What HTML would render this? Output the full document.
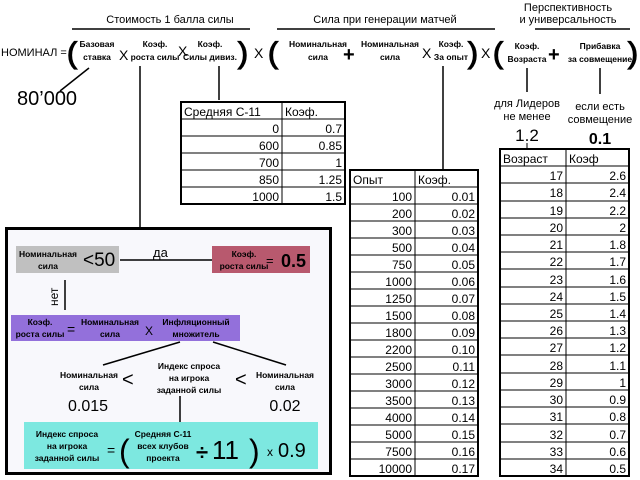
<!DOCTYPE html>
<html><head><meta charset="utf-8"><style>
html,body{margin:0;padding:0;background:#fff;}
svg{display:block;}
text{font-family:"Liberation Sans",sans-serif;fill:#000;}
.s{font-size:8.5px;font-weight:bold;}
.m{font-size:11px;}
.t{font-size:12px;}
.p{font-size:30px;font-weight:normal;stroke:#000;stroke-width:1.2px;}
</style></head><body>
<svg width="640" height="480" viewBox="0 0 640 480" xmlns="http://www.w3.org/2000/svg">
<!-- headers -->
<text x="170" y="23" class="m" text-anchor="middle">Стоимость 1 балла силы</text>
<line x1="72" y1="29" x2="250" y2="29" stroke="#000" stroke-width="1.5"/>
<text x="385" y="23" class="m" text-anchor="middle">Сила при генерации матчей</text>
<line x1="277" y1="29" x2="495" y2="29" stroke="#000" stroke-width="1.5"/>
<text x="568" y="11" class="m" text-anchor="middle">Перспективность</text>
<text x="568" y="23" class="m" text-anchor="middle">и универсальность</text>
<line x1="535" y1="29" x2="630" y2="29" stroke="#000" stroke-width="1.5"/>

<!-- formula -->
<text x="1" y="56" style="font-size:11px">НОМИНАЛ =</text>
<text x="67" y="63" class="p">(</text>
<text x="97" y="47" class="s" text-anchor="middle">Базовая</text>
<text x="97" y="60" class="s" text-anchor="middle">ставка</text>
<text x="119" y="60" style="font-size:14px">X</text>
<text x="155" y="47" class="s" text-anchor="middle">Коэф.</text>
<text x="155" y="60" class="s" text-anchor="middle">роста силы</text>
<text x="178" y="56" style="font-size:14px">X</text>
<text x="210" y="47" class="s" text-anchor="middle">Коэф.</text>
<text x="210" y="60" class="s" text-anchor="middle">Силы дивиз.</text>
<text x="238" y="63" class="p">)</text>
<text x="254" y="58" style="font-size:14px">X</text>
<text x="268" y="63" class="p">(</text>
<text x="318" y="47" class="s" text-anchor="middle">Номинальная</text>
<text x="318" y="60" class="s" text-anchor="middle">сила</text>
<text x="343" y="61" style="font-size:20px;font-weight:bold">+</text>
<text x="390" y="47" class="s" text-anchor="middle">Номинальная</text>
<text x="390" y="60" class="s" text-anchor="middle">сила</text>
<text x="422" y="58" style="font-size:14px">X</text>
<text x="451" y="47" class="s" text-anchor="middle">Коэф.</text>
<text x="451" y="60" class="s" text-anchor="middle">За опыт</text>
<text x="468" y="63" class="p">)</text>
<text x="481" y="58" style="font-size:14px">X</text>
<text x="493" y="63" class="p">(</text>
<text x="527" y="49" class="s" text-anchor="middle">Коэф.</text>
<text x="527" y="62" class="s" text-anchor="middle">Возраста</text>
<text x="548" y="61" style="font-size:20px;font-weight:bold">+</text>
<text x="600" y="49" class="s" text-anchor="middle">Прибавка</text>
<text x="600" y="62" class="s" text-anchor="middle">за совмещение</text>
<text x="628" y="63" class="p">)</text>

<!-- connectors -->
<line x1="89" y1="68" x2="60" y2="91" stroke="#000" stroke-width="1.5"/>
<text x="17" y="105" style="font-size:20px">80’000</text>
<line x1="140" y1="66" x2="140" y2="227" stroke="#000" stroke-width="1.5"/>
<line x1="219" y1="66" x2="219" y2="100" stroke="#000" stroke-width="1.5"/>
<line x1="443" y1="66" x2="443" y2="170" stroke="#000" stroke-width="1.5"/>
<line x1="527" y1="68" x2="527" y2="92" stroke="#000" stroke-width="1.5"/>
<line x1="600" y1="68" x2="600" y2="94" stroke="#000" stroke-width="1.5"/>
<text x="527" y="107" class="m" text-anchor="middle">для Лидеров</text>
<text x="527" y="120" class="m" text-anchor="middle">не менее</text>
<text x="527" y="141" style="font-size:17px" text-anchor="middle">1.2</text>
<line x1="527" y1="143" x2="527" y2="149" stroke="#000"/>
<text x="600" y="110" class="m" text-anchor="middle">если есть</text>
<text x="600" y="123" class="m" text-anchor="middle">совмещение</text>
<text x="600" y="144" style="font-size:16px;font-weight:bold" text-anchor="middle">0.1</text>

<!-- Table 1 -->
<g stroke="#000" stroke-width="1">
<line x1="181" y1="119" x2="345" y2="119"/><line x1="181" y1="136" x2="345" y2="136"/>
<line x1="181" y1="153" x2="345" y2="153"/><line x1="181" y1="170" x2="345" y2="170"/>
<line x1="181" y1="187" x2="345" y2="187"/><line x1="282" y1="102" x2="282" y2="204"/>
</g>
<rect x="181" y="102" width="164" height="102" fill="none" stroke="#000" stroke-width="2"/>
<text x="184" y="116" class="t">Средняя С-11</text><text x="285" y="116" class="t">Коэф.</text>
<g text-anchor="end" class="t">
<text x="279" y="133">0</text><text x="342" y="133">0.7</text>
<text x="279" y="150">600</text><text x="342" y="150">0.85</text>
<text x="279" y="167">700</text><text x="342" y="167">1</text>
<text x="279" y="184">850</text><text x="342" y="184">1.25</text>
<text x="279" y="201">1000</text><text x="342" y="201">1.5</text>
</g>

<!-- Table 2 -->
<g stroke="#000" stroke-width="1">
<line x1="350" y1="187" x2="478" y2="187"/><line x1="350" y1="204" x2="478" y2="204"/>
<line x1="350" y1="221" x2="478" y2="221"/><line x1="350" y1="238" x2="478" y2="238"/>
<line x1="350" y1="255" x2="478" y2="255"/><line x1="350" y1="272" x2="478" y2="272"/>
<line x1="350" y1="289" x2="478" y2="289"/><line x1="350" y1="306" x2="478" y2="306"/>
<line x1="350" y1="323" x2="478" y2="323"/><line x1="350" y1="340" x2="478" y2="340"/>
<line x1="350" y1="357" x2="478" y2="357"/><line x1="350" y1="374" x2="478" y2="374"/>
<line x1="350" y1="391" x2="478" y2="391"/><line x1="350" y1="408" x2="478" y2="408"/>
<line x1="350" y1="425" x2="478" y2="425"/><line x1="350" y1="442" x2="478" y2="442"/>
<line x1="350" y1="459" x2="478" y2="459"/><line x1="415" y1="170" x2="415" y2="476"/>
</g>
<rect x="350" y="170" width="128" height="306" fill="none" stroke="#000" stroke-width="2"/>
<text x="353" y="184" class="t">Опыт</text><text x="418" y="184" class="t">Коэф.</text>
<g text-anchor="end" class="t">
<text x="412" y="201">100</text><text x="475" y="201">0.01</text>
<text x="412" y="218">200</text><text x="475" y="218">0.02</text>
<text x="412" y="235">300</text><text x="475" y="235">0.03</text>
<text x="412" y="252">500</text><text x="475" y="252">0.04</text>
<text x="412" y="269">750</text><text x="475" y="269">0.05</text>
<text x="412" y="286">1000</text><text x="475" y="286">0.06</text>
<text x="412" y="303">1250</text><text x="475" y="303">0.07</text>
<text x="412" y="320">1500</text><text x="475" y="320">0.08</text>
<text x="412" y="337">1800</text><text x="475" y="337">0.09</text>
<text x="412" y="354">2200</text><text x="475" y="354">0.10</text>
<text x="412" y="371">2500</text><text x="475" y="371">0.11</text>
<text x="412" y="388">3000</text><text x="475" y="388">0.12</text>
<text x="412" y="405">3500</text><text x="475" y="405">0.13</text>
<text x="412" y="422">4000</text><text x="475" y="422">0.14</text>
<text x="412" y="439">5000</text><text x="475" y="439">0.15</text>
<text x="412" y="456">7500</text><text x="475" y="456">0.16</text>
<text x="412" y="473">10000</text><text x="475" y="473">0.17</text>
</g>

<!-- Table 3 -->
<g stroke="#000" stroke-width="1">
<line x1="500" y1="166" x2="629" y2="166"/><line x1="500" y1="183" x2="629" y2="183"/>
<line x1="500" y1="201" x2="629" y2="201"/><line x1="500" y1="218" x2="629" y2="218"/>
<line x1="500" y1="235" x2="629" y2="235"/><line x1="500" y1="252" x2="629" y2="252"/>
<line x1="500" y1="269" x2="629" y2="269"/><line x1="500" y1="287" x2="629" y2="287"/>
<line x1="500" y1="304" x2="629" y2="304"/><line x1="500" y1="321" x2="629" y2="321"/>
<line x1="500" y1="338" x2="629" y2="338"/><line x1="500" y1="355" x2="629" y2="355"/>
<line x1="500" y1="373" x2="629" y2="373"/><line x1="500" y1="390" x2="629" y2="390"/>
<line x1="500" y1="407" x2="629" y2="407"/><line x1="500" y1="424" x2="629" y2="424"/>
<line x1="500" y1="442" x2="629" y2="442"/><line x1="500" y1="459" x2="629" y2="459"/>
<line x1="566" y1="149" x2="566" y2="476"/>
</g>
<rect x="500" y="149" width="129" height="327" fill="none" stroke="#000" stroke-width="2"/>
<text x="503" y="163" class="t">Возраст</text><text x="569" y="163" class="t">Коэф</text>
<g text-anchor="end" class="t">
<text x="563" y="180">17</text><text x="626" y="180">2.6</text>
<text x="563" y="197">18</text><text x="626" y="197">2.4</text>
<text x="563" y="215">19</text><text x="626" y="215">2.2</text>
<text x="563" y="232">20</text><text x="626" y="232">2</text>
<text x="563" y="249">21</text><text x="626" y="249">1.8</text>
<text x="563" y="266">22</text><text x="626" y="266">1.7</text>
<text x="563" y="284">23</text><text x="626" y="284">1.6</text>
<text x="563" y="301">24</text><text x="626" y="301">1.5</text>
<text x="563" y="318">25</text><text x="626" y="318">1.4</text>
<text x="563" y="335">26</text><text x="626" y="335">1.3</text>
<text x="563" y="352">27</text><text x="626" y="352">1.2</text>
<text x="563" y="370">28</text><text x="626" y="370">1.1</text>
<text x="563" y="387">29</text><text x="626" y="387">1</text>
<text x="563" y="404">30</text><text x="626" y="404">0.9</text>
<text x="563" y="421">31</text><text x="626" y="421">0.8</text>
<text x="563" y="439">32</text><text x="626" y="439">0.7</text>
<text x="563" y="456">33</text><text x="626" y="456">0.6</text>
<text x="563" y="473">34</text><text x="626" y="473">0.5</text>
</g>

<!-- Flowchart box -->
<rect x="6.5" y="228.5" width="324" height="245" fill="#f8f8fc" stroke="#000" stroke-width="3"/>
<rect x="16" y="246" width="103" height="27" fill="#c0c0c0"/>
<text x="48" y="257" class="s" text-anchor="middle">Номинальная</text>
<text x="48" y="269" class="s" text-anchor="middle">сила</text>
<text x="83" y="266" style="font-size:19px">&lt;50</text>
<line x1="120" y1="260" x2="212" y2="260" stroke="#000" stroke-width="1.5"/>
<text x="153" y="257" style="font-size:13px">да</text>
<rect x="212" y="246" width="98" height="27" fill="#b8596e"/>
<text x="244" y="257" class="s" text-anchor="middle">Коэф.</text>
<text x="244" y="269" class="s" text-anchor="middle">роста силы</text>
<text x="266" y="265" style="font-size:13px">=</text>
<text x="281" y="267" style="font-size:18px;font-weight:bold">0.5</text>
<line x1="65" y1="280" x2="65" y2="310" stroke="#000" stroke-width="1.5"/>
<text x="0" y="0" transform="translate(58,306) rotate(-90)" style="font-size:12px">нет</text>
<rect x="11" y="315" width="229" height="26" fill="#9370db"/>
<text x="40" y="325" class="s" text-anchor="middle">Коэф.</text>
<text x="40" y="337" class="s" text-anchor="middle">роста силы</text>
<text x="67" y="334" style="font-size:14px">=</text>
<text x="110" y="325" class="s" text-anchor="middle">Номинальная</text>
<text x="110" y="337" class="s" text-anchor="middle">сила</text>
<text x="145" y="335" style="font-size:12px">X</text>
<text x="196" y="325" class="s" text-anchor="middle">Инфляционный</text>
<text x="196" y="337" class="s" text-anchor="middle">множитель</text>
<line x1="180" y1="342" x2="103" y2="365" stroke="#000" stroke-width="1.5"/>
<line x1="213" y1="342" x2="286" y2="365" stroke="#000" stroke-width="1.5"/>
<text x="89" y="378" class="s" text-anchor="middle">Номинальная</text>
<text x="89" y="390" class="s" text-anchor="middle">сила</text>
<text x="122" y="386" style="font-size:20px">&lt;</text>
<text x="189" y="369" class="s" text-anchor="middle">Индекс спроса</text>
<text x="189" y="381" class="s" text-anchor="middle">на игрока</text>
<text x="189" y="393" class="s" text-anchor="middle">заданной силы</text>
<text x="235" y="386" style="font-size:20px">&lt;</text>
<text x="285" y="378" class="s" text-anchor="middle">Номинальная</text>
<text x="285" y="390" class="s" text-anchor="middle">сила</text>
<text x="88" y="411" style="font-size:16px" text-anchor="middle">0.015</text>
<text x="285" y="411" style="font-size:16px" text-anchor="middle">0.02</text>
<line x1="180" y1="396" x2="180" y2="422" stroke="#000" stroke-width="1.5"/>
<rect x="24" y="422" width="294" height="47" fill="#7de8e0"/>
<text x="67" y="437" class="s" text-anchor="middle">Индекс спроса</text>
<text x="67" y="449" class="s" text-anchor="middle">на игрока</text>
<text x="67" y="461" class="s" text-anchor="middle">заданной силы</text>
<text x="107" y="455" style="font-size:14px">=</text>
<text x="119" y="462" style="font-size:32px">(</text>
<text x="163" y="437" class="s" text-anchor="middle">Средняя С-11</text>
<text x="163" y="449" class="s" text-anchor="middle">всех клубов</text>
<text x="163" y="461" class="s" text-anchor="middle">проекта</text>
<text x="196" y="460" style="font-size:22px;font-weight:bold">÷</text>
<text x="212" y="459" style="font-size:26px">11</text>
<text x="249" y="462" style="font-size:32px">)</text>
<text x="267" y="456" style="font-size:12px">x</text>
<text x="278" y="457" style="font-size:20px">0.9</text>
</svg>
</body></html>
